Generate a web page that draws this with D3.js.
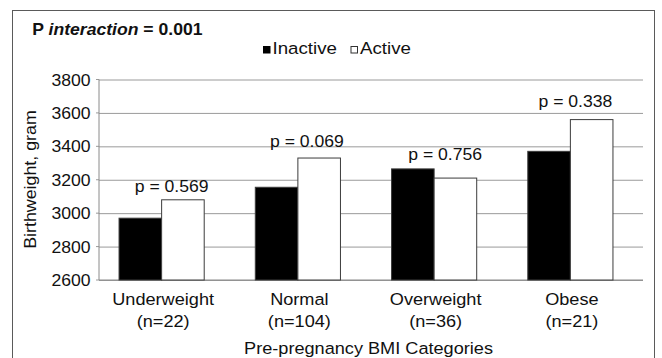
<!DOCTYPE html>
<html>
<head>
<meta charset="utf-8">
<script src="https://cdn.jsdelivr.net/npm/d3@7"></script>
<style>
    body { margin: 0; background: #fff; }
    svg { display: block; font-family: "Liberation Sans", Arial, sans-serif; }
</style>
</head>
<body>
<svg id="chart"></svg>
<script>
// Chart data
const categories = ['Underweight', 'Normal', 'Overweight', 'Obese'];
const groupSizes = ['(n=22)', '(n=104)', '(n=36)', '(n=21)'];
const seriesNames = ['Inactive', 'Active'];
const inactive = [2970, 3155, 3265, 3370];
const active = [3080, 3330, 3210, 3560];
const pLabels = ['p = 0.569', 'p = 0.069', 'p = 0.756', 'p = 0.338'];
const yTicks = [2600, 2800, 3000, 3200, 3400, 3600, 3800];

const width = 662, height = 358;
const plot = {left: 99, right: 643, top: 79.5, bottom: 280};
// small hand nudges for the p-value text boxes (dx, dy from group centre / top bar)
const pNudge = [[10, -7.5], [9, -11.5], [11, -9], [5, -12.3]];
// the original text looks slightly wide, so stretch it a little
const SX = 1.1;

const svg = d3.select('#chart')
    .attr('width', width)
    .attr('height', height);

// outer frame
svg.append('rect')
    .attr('x', 12.5).attr('y', 10.5)
    .attr('width', 642).attr('height', 370)
    .attr('fill', 'none')
    .attr('stroke', '#5a5a5a')
    .attr('stroke-width', 1);

function addText(x, y, str, size, opts = {}) {
    const t = svg.append('text')
        .attr('transform', `translate(${x},${y})${opts.rotate ? ' rotate(' + opts.rotate + ')' : ''} scale(${SX},1)`)
        .attr('text-anchor', opts.anchor || 'start')
        .attr('font-size', size + 'px')
        .attr('fill', '#111')
        .text(str);
    return t;
}

// Scales
const x = d3.scaleBand()
    .domain(categories)
    .range([93.5, 638.5])
    .paddingInner(0.375)
    .paddingOuter(0.1875);

const xs = d3.scaleBand()
    .domain(seriesNames)
    .range([0, x.bandwidth()]);

const y = d3.scaleLinear()
    .domain([2600, 3800])
    .range([plot.bottom, plot.top]);

const color = d3.scaleOrdinal()
    .domain(seriesNames)
    .range(['#000000', '#ffffff']);

// grid lines
svg.append('g')
    .attr('transform', `translate(${plot.left},0)`)
    .call(d3.axisLeft(y).tickValues(yTicks).tickSize(-(plot.right - plot.left)).tickFormat(''))
    .call(g => g.select('.domain').remove())
    .selectAll('line')
    .attr('stroke', '#9a9a9a');

// short ticks on the left
svg.append('g')
    .selectAll('line')
    .data(yTicks)
    .enter()
    .append('line')
    .attr('x1', plot.left - 3).attr('x2', plot.left)
    .attr('y1', d => y(d)).attr('y2', d => y(d))
    .attr('stroke', '#9a9a9a');

// y tick labels
yTicks.forEach(v => addText(plot.left - 8.5, y(v) + 6, v, 16, {anchor: 'end'}));

// axis lines
svg.append('line')
    .attr('x1', plot.left).attr('x2', plot.left)
    .attr('y1', plot.top).attr('y2', plot.bottom)
    .attr('stroke', '#8a8a8a');
svg.append('line')
    .attr('x1', plot.left).attr('x2', plot.right)
    .attr('y1', plot.bottom).attr('y2', plot.bottom)
    .attr('stroke', '#8a8a8a');

// bars
const rows = categories.map((c, i) => ({cat: c, values: [
    {name: 'Inactive', value: inactive[i]},
    {name: 'Active', value: active[i]}
]}));

const groups = svg.selectAll('.group')
    .data(rows)
    .enter()
    .append('g')
    .attr('class', 'group')
    .attr('transform', d => `translate(${x(d.cat)},0)`);

groups.selectAll('rect')
    .data(d => d.values)
    .enter()
    .append('rect')
    .attr('x', d => xs(d.name))
    .attr('y', d => y(d.value))
    .attr('width', xs.bandwidth())
    .attr('height', d => plot.bottom - y(d.value))
    .attr('fill', d => color(d.name))
    .attr('stroke', '#3c3c3c')
    .attr('stroke-width', 1);

// p-value labels
rows.forEach((d, i) => {
    const top = y(d3.max(d.values, v => v.value));
    const cx = x(d.cat) + x.bandwidth() / 2;
    addText(cx + pNudge[i][0], top + pNudge[i][1], pLabels[i], 16, {anchor: 'middle'});
});

// category labels
categories.forEach((c, i) => {
    const cx = x(c) + x.bandwidth() / 2 + 1.5;
    addText(cx, 304.5, c, 16.5, {anchor: 'middle'});
    addText(cx, 326.5, groupSizes[i], 16.5, {anchor: 'middle'});
});

// axis titles
addText(368.5, 353.5, 'Pre-pregnancy BMI Categories', 16.5, {anchor: 'middle'});
addText(35.5, 179.5, 'Birthweight, gram', 16.2, {anchor: 'middle', rotate: -90});

// title
const title = addText(32.3, 35, '', 16)
    .attr('font-weight', 'bold');
title.append('tspan').text('P ');
title.append('tspan').attr('font-style', 'italic').text('interaction');
title.append('tspan').text(' = 0.001');

// legend
const legendX = [263, 350.5];
seriesNames.forEach((s, i) => {
    svg.append('rect')
        .attr('x', legendX[i] + 0.5).attr('y', 46.5)
        .attr('width', 6.5).attr('height', 6.5)
        .attr('fill', color(s))
        .attr('stroke', i === 0 ? '#000' : '#333')
        .attr('stroke-width', 1);
    addText(legendX[i] + 9.5, 54, s, 17);
});
</script>
</body>
</html>
